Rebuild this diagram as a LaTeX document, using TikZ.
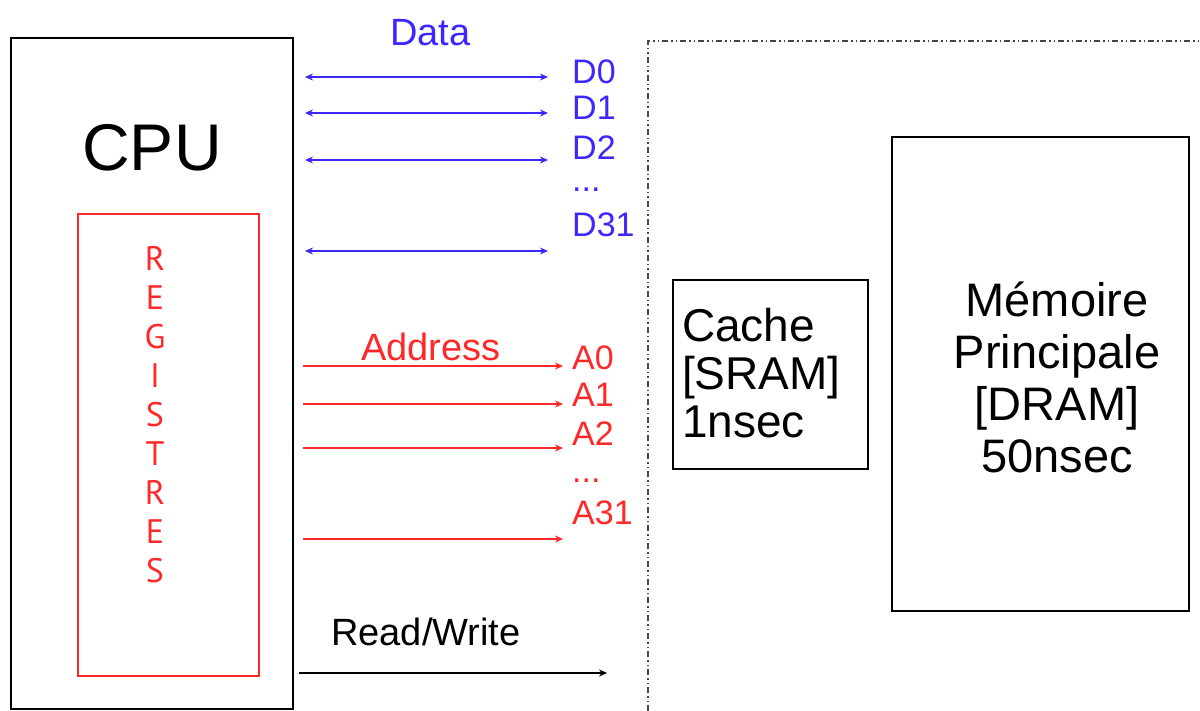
\documentclass[tikz,border=0pt]{standalone}
\usepackage{fontspec}
\setmainfont{Liberation Sans}
\newfontfamily\regfont{PT Sans}
\usetikzlibrary{arrows.meta}
\definecolor{busblue}{RGB}{60,40,255}
\definecolor{busred}{RGB}{255,40,40}
\definecolor{framegray}{RGB}{70,70,70}
\tikzset{
  unitbox/.style={draw=black, line width=1.4pt},
  cpubox/.style={draw=black, line width=1.8pt},
  regbox/.style={draw=busred, line width=1.3pt},
  label/.style={inner sep=0pt, anchor=west},
  buslabel/.style={label, font=\fontsize{34}{34}\selectfont},
  titlelabel/.style={label, font=\fontsize{38}{38}\selectfont},
  databus/.style={busblue, line width=1.5pt, {Stealth[length=8pt,width=7pt]}-{Stealth[length=8pt,width=7pt]}},
  addrbus/.style={busred, line width=1.5pt, -{Stealth[length=8pt,width=7pt]}},
  ctrlbus/.style={black, line width=1.5pt, -{Stealth[length=8pt,width=7pt]}},
  memframe/.style={framegray, line width=1.2pt, dash pattern=on 6pt off 3pt on 1.5pt off 3pt on 1.5pt off 3pt},
}
\begin{document}
\begin{tikzpicture}[x=1pt,y=-1pt]
\useasboundingbox (0,0) rectangle (1200,711);

% processor and its registers
\draw[cpubox] (11,38) rectangle (293,709);
\node[inner sep=0pt, font=\fontsize{66}{66}\selectfont] (cpu) at (152,148) {CPU};
\draw[regbox] (78,214) rectangle (259,676);
\node[inner sep=0pt, busred, align=center, font=\regfont\fontsize{34}{39}\selectfont] (reg) at (155,415)
  {R\\E\\G\\I\\S\\T\\R\\E\\S};

% memory side, framed by a dash-dot line
\draw[memframe] (648,711) -- (648,41) -- (1200,41);
\draw[unitbox] (673,280) rectangle (868,469);
\node[label, align=left, font=\fontsize{46}{48}\selectfont] (cache) at (682,373)
  {Cache\\{[SRAM]}\\1nsec};
\draw[unitbox] (892,137) rectangle (1189,611);
\node[inner sep=0pt, align=center, font=\fontsize{47}{52}\selectfont] (mem) at (1057,377)
  {Mémoire\\Principale\\{[DRAM]}\\50nsec};

% data bus
\node[titlelabel, busblue] (data) at (390,33) {Data};
\foreach \n/\y in {0/77,1/113,2/160,31/251}{
  \coordinate (d\n l) at (305,\y);
  \coordinate (d\n r) at (548,\y);
  \draw[databus] (d\n l) -- (d\n r);
}
\node[buslabel, busblue] (D0) at (572,72) {D0};
\node[buslabel, busblue] (D1) at (572,108) {D1};
\node[buslabel, busblue] (D2) at (572,148) {D2};
\node[buslabel, busblue] (Ddots) at (572,190) {...};
\node[buslabel, busblue] (D31) at (572,225) {D31};

% address bus
\node[titlelabel, busred] (addr) at (361,347) {Address};
\foreach \n/\y in {0/366,1/404,2/448,31/539}{
  \coordinate (a\n l) at (303,\y);
  \coordinate (a\n r) at (563,\y);
  \draw[addrbus] (a\n l) -- (a\n r);
}
\node[buslabel, busred] (A0) at (572,358) {A0};
\node[buslabel, busred] (A1) at (572,395) {A1};
\node[buslabel, busred] (A2) at (572,434) {A2};
\node[buslabel, busred] (Adots) at (572,481) {...};
\node[buslabel, busred] (A31) at (572,513) {A31};

% read/write control line
\node[titlelabel] (rw) at (331,632) {Read/Write};
\coordinate (rwl) at (299,673);
\coordinate (rwr) at (607,673);
\draw[ctrlbus] (rwl) -- (rwr);
\end{tikzpicture}
\end{document}
